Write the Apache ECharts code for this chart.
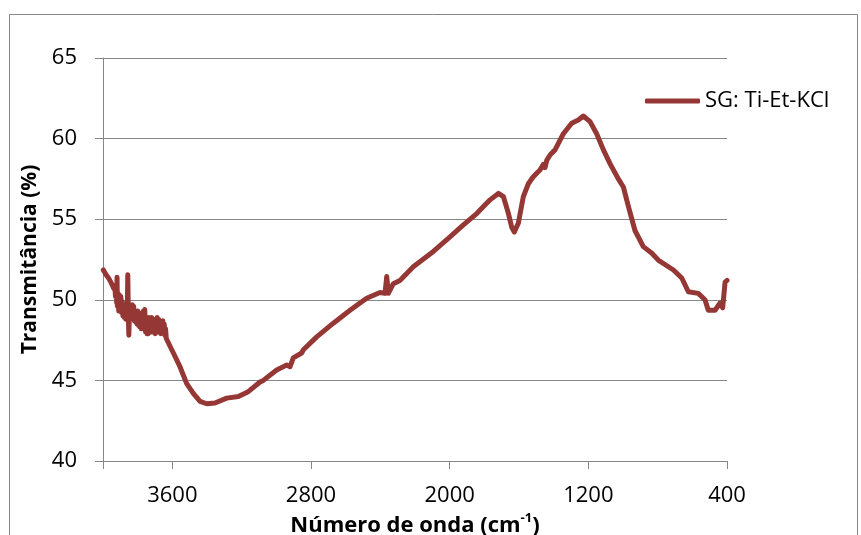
<!DOCTYPE html>
<html>
<head>
<meta charset="utf-8">
<script src="https://cdn.jsdelivr.net/npm/echarts@6/dist/echarts.min.js"></script>
<style>
html,body{margin:0;padding:0;background:#fff;}
#chart{width:861px;height:535px;}
</style>
</head>
<body>
<div id="chart"></div>
<script>
// Wavenumber (cm-1)
var wavenumbers = [3998,3985,3978,3965,3955,3948,3938,3932,3928,3924,3921,3919,3917,3913,3909,3905,3901,3897,3893,3889,3885,3881,3877,3873,3869,3865,3860,3857,3854,3851,3847,3843,3839,3835,3831,3827,3823,3819,3815,3811,3807,3803,3799,3795,3791,3787,3783,3779,3775,3771,3767,3763,3759,3755,3751,3747,3743,3739,3735,3731,3727,3723,3719,3715,3711,3707,3703,3699,3695,3691,3687,3683,3679,3675,3671,3667,3663,3659,3655,3651,3647,3643,3639,3635,3630,3594,3556,3517,3479,3440,3402,3354,3286,3219,3162,3094,3075,2998,2940,2921,2902,2854,2844,2767,2671,2575,2479,2402,2373,2363,2354,2325,2287,2210,2094,1998,1921,1844,1767,1719,1690,1661,1642,1627,1604,1575,1546,1520,1510,1498,1479,1460,1450,1440,1420,1410,1392,1373,1344,1296,1258,1229,1190,1152,1113,1075,1027,998,969,931,883,835,795,709,661,623,566,527,508,469,440,425,411,400];
// Transmittance (%)
var transmittance = [51.85,51.6,51.7,51.3,51.1,51.2,50.7,50.9,50.2,50.8,49.8,51.4,49.6,50.4,49.3,50.3,49.5,50.2,49.2,49.9,49.0,49.7,48.9,49.6,48.8,49.5,49.0,51.55,49.2,47.8,49.4,48.8,49.6,48.9,49.7,49.0,49.6,48.7,49.3,48.6,49.2,48.5,49.3,48.4,49.2,48.3,49.1,48.2,49.0,48.4,49.3,48.2,49.4,48.0,48.8,47.9,48.7,47.9,48.9,48.1,48.8,48.0,48.9,48.1,48.8,48.0,48.7,47.9,48.8,48.0,48.9,48.1,48.8,48.0,48.7,47.9,48.6,48.0,48.7,47.9,48.5,47.8,48.2,47.6,47.6,46.7,45.85,44.8,44.2,43.7,43.55,43.6,43.9,44.0,44.3,44.9,45.0,45.65,45.95,45.85,46.4,46.7,46.9,47.7,48.55,49.35,50.1,50.45,50.4,51.45,50.4,51.0,51.2,52.05,53.0,53.9,54.65,55.35,56.2,56.6,56.4,55.35,54.5,54.2,54.75,56.4,57.2,57.6,57.5,57.85,58.05,58.4,58.2,58.65,59.0,58.9,59.3,59.7,60.3,60.95,61.15,61.4,61.05,60.3,59.3,58.45,57.5,57.0,55.8,54.3,53.3,52.9,52.45,51.85,51.35,50.5,50.4,50.0,49.35,49.35,49.8,49.5,51.1,51.2];
var seriesName = 'SG: Ti-Et-KCl';
var xTitle = 'Número de onda (cm{sup|-1})';
var yTitle = 'Transmitância (%)';

var points = wavenumbers.map(function(w, i){ return [w, transmittance[i]]; });
var gray = '#868686';
var font = 'Open Sans';

var chart = echarts.init(document.getElementById('chart'));
chart.setOption({
  animation: false,
  backgroundColor: '#fff',
  textStyle: {fontFamily: font},
  graphic: [{
    type: 'rect',
    shape: {x: 9.5, y: 14.5, width: 848, height: 540},
    style: {fill: 'none', stroke: gray, lineWidth: 1},
    silent: true
  }],
  grid: {left: 103, right: 134, top: 58, bottom: 74, containLabel: false, outerBoundsMode: 'none'},
  legend: {
    left: 645, top: 90, padding: 0,
    itemWidth: 55, itemHeight: 5,
    icon: 'roundRect',
    textStyle: {fontFamily: font, fontSize: 22, color: '#000', padding: [0,0,0,0]},
    data: [seriesName]
  },
  xAxis: {
    type: 'value', inverse: true, min: 400, max: 4000, interval: 800,
    name: xTitle, nameLocation: 'middle', nameGap: 46,
    nameTextStyle: {
      fontFamily: font, fontSize: 22, fontWeight: 'bold', color: '#000', lineHeight: 28,
      rich: {sup: {fontFamily: font, fontSize: 13, fontWeight: 'bold', color: '#000', lineHeight: 13, verticalAlign: 'top'}}
    },
    axisLine: {show: true, lineStyle: {color: gray, width: 1}},
    axisTick: {show: true, length: 8, lineStyle: {color: gray}},
    axisLabel: {fontFamily: font, fontSize: 22, color: '#000', margin: 24,
      formatter: function(v){ return v === 4000 ? '' : String(v); }},
    splitLine: {show: false}
  },
  yAxis: {
    type: 'value', min: 40, max: 65, interval: 5,
    name: yTitle, nameLocation: 'middle', nameGap: 58, nameRotate: 90,
    nameTextStyle: {fontFamily: font, fontSize: 21, fontWeight: 'bold', color: '#000'},
    axisLine: {show: true, lineStyle: {color: gray, width: 1}},
    axisTick: {show: true, length: 8, lineStyle: {color: gray}},
    axisLabel: {fontFamily: font, fontSize: 22, color: '#000', margin: 26},
    splitLine: {show: true, lineStyle: {color: gray, width: 1}}
  },
  series: [{
    name: seriesName,
    type: 'line',
    data: points,
    showSymbol: false,
    symbol: 'none',
    color: '#953735',
    lineStyle: {color: '#953735', width: 5, cap: 'round', join: 'round'},
    itemStyle: {color: '#953735'}
  }]
});
</script>
</body>
</html>
